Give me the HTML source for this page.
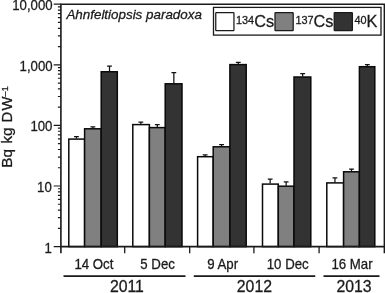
<!DOCTYPE html>
<html lang="en"><head><meta charset="utf-8"><title>Ahnfeltiopsis paradoxa</title>
<style>html,body{margin:0;padding:0;background:#fff;width:385px;height:293px;overflow:hidden}</style>
</head><body>
<svg width="385" height="293" viewBox="0 0 385 293" style="display:block;position:absolute;left:0;top:0;will-change:transform" font-family="'Liberation Sans', Arial, sans-serif" fill="#1a1a1a"><style>text{stroke:#1a1a1a;stroke-width:0.28px;paint-order:stroke}</style>
<rect x="0" y="0" width="385" height="293" fill="#fff"/>
<path d="M76.45 138.60V136.70M74.05 136.70H78.85" stroke="#111" stroke-width="1.25" fill="none"/>
<path d="M92.90 128.30V126.80M90.50 126.80H95.30" stroke="#111" stroke-width="1.25" fill="none"/>
<path d="M109.50 71.25V66.00M107.10 66.00H111.90" stroke="#111" stroke-width="1.25" fill="none"/>
<rect x="68.80" y="139.10" width="15.80" height="107.50" fill="#ffffff" stroke="#0a0a0a" stroke-width="1.5"/>
<rect x="84.60" y="128.80" width="16.60" height="117.80" fill="#808080" stroke="#0a0a0a" stroke-width="1.5"/>
<rect x="101.20" y="71.75" width="16.10" height="174.85" fill="#333333" stroke="#0a0a0a" stroke-width="1.5"/>
<path d="M140.85 124.10V122.10M138.45 122.10H143.25" stroke="#111" stroke-width="1.25" fill="none"/>
<path d="M157.30 127.10V124.60M154.90 124.60H159.70" stroke="#111" stroke-width="1.25" fill="none"/>
<path d="M173.85 83.30V72.60M171.45 72.60H176.25" stroke="#111" stroke-width="1.25" fill="none"/>
<rect x="132.80" y="124.60" width="16.60" height="122.00" fill="#ffffff" stroke="#0a0a0a" stroke-width="1.5"/>
<rect x="149.40" y="127.60" width="15.80" height="119.00" fill="#808080" stroke="#0a0a0a" stroke-width="1.5"/>
<rect x="165.20" y="83.80" width="16.80" height="162.80" fill="#333333" stroke="#0a0a0a" stroke-width="1.5"/>
<path d="M205.15 156.20V154.90M202.75 154.90H207.55" stroke="#111" stroke-width="1.25" fill="none"/>
<path d="M221.55 146.30V144.60M219.15 144.60H223.95" stroke="#111" stroke-width="1.25" fill="none"/>
<path d="M238.30 64.10V62.40M235.90 62.40H240.70" stroke="#111" stroke-width="1.25" fill="none"/>
<rect x="197.60" y="156.70" width="15.60" height="89.90" fill="#ffffff" stroke="#0a0a0a" stroke-width="1.5"/>
<rect x="213.20" y="146.80" width="16.70" height="99.80" fill="#808080" stroke="#0a0a0a" stroke-width="1.5"/>
<rect x="229.90" y="64.60" width="16.30" height="182.00" fill="#333333" stroke="#0a0a0a" stroke-width="1.5"/>
<path d="M270.15 183.60V179.10M267.75 179.10H272.55" stroke="#111" stroke-width="1.25" fill="none"/>
<path d="M286.15 185.70V181.80M283.75 181.80H288.55" stroke="#111" stroke-width="1.25" fill="none"/>
<path d="M302.65 76.50V73.70M300.25 73.70H305.05" stroke="#111" stroke-width="1.25" fill="none"/>
<rect x="262.50" y="184.10" width="15.80" height="62.50" fill="#ffffff" stroke="#0a0a0a" stroke-width="1.5"/>
<rect x="278.30" y="186.20" width="15.70" height="60.40" fill="#808080" stroke="#0a0a0a" stroke-width="1.5"/>
<rect x="294.00" y="77.00" width="16.80" height="169.60" fill="#333333" stroke="#0a0a0a" stroke-width="1.5"/>
<path d="M334.95 182.40V177.90M332.55 177.90H337.35" stroke="#111" stroke-width="1.25" fill="none"/>
<path d="M351.50 171.30V169.10M349.10 169.10H353.90" stroke="#111" stroke-width="1.25" fill="none"/>
<path d="M367.35 66.20V64.60M364.95 64.60H369.75" stroke="#111" stroke-width="1.25" fill="none"/>
<rect x="326.80" y="182.90" width="16.80" height="63.70" fill="#ffffff" stroke="#0a0a0a" stroke-width="1.5"/>
<rect x="343.60" y="171.80" width="15.80" height="74.80" fill="#808080" stroke="#0a0a0a" stroke-width="1.5"/>
<rect x="359.40" y="66.70" width="15.40" height="179.90" fill="#333333" stroke="#0a0a0a" stroke-width="1.5"/>
<path d="M60.9 253.29999999999998V4.2H384.4V253.29999999999998" fill="none" stroke="#1a1a1a" stroke-width="1.6" stroke-linejoin="miter"/>
<path d="M60.9 246.6H384.4" fill="none" stroke="#1a1a1a" stroke-width="1.6"/>
<path d="M53.70 246.60H60.9 M57.90 228.36H60.9 M57.90 217.69H60.9 M57.90 210.12H60.9 M57.90 204.24H60.9 M57.90 199.44H60.9 M57.90 195.39H60.9 M57.90 191.87H60.9 M57.90 188.77H60.9 M53.70 186.00H60.9 M57.90 167.76H60.9 M57.90 157.09H60.9 M57.90 149.52H60.9 M57.90 143.64H60.9 M57.90 138.84H60.9 M57.90 134.79H60.9 M57.90 131.27H60.9 M57.90 128.17H60.9 M53.70 125.40H60.9 M57.90 107.16H60.9 M57.90 96.49H60.9 M57.90 88.92H60.9 M57.90 83.04H60.9 M57.90 78.24H60.9 M57.90 74.19H60.9 M57.90 70.67H60.9 M57.90 67.57H60.9 M53.70 64.80H60.9 M57.90 46.56H60.9 M57.90 35.89H60.9 M57.90 28.32H60.9 M57.90 22.44H60.9 M57.90 17.64H60.9 M57.90 13.59H60.9 M57.90 10.07H60.9 M57.90 6.97H60.9 M53.70 4.20H60.9" stroke="#1a1a1a" stroke-width="1.2" fill="none"/>
<path d="M124.70 246.6V253.29999999999998 M189.70 246.6V253.29999999999998 M253.90 246.6V253.29999999999998 M319.10 246.6V253.29999999999998" stroke="#1a1a1a" stroke-width="1.3" fill="none"/>
<text transform="translate(51.9 252.70) scale(0.905 1)" font-size="14.6" text-anchor="end">1</text>
<text transform="translate(51.8 192.10) scale(0.905 1)" font-size="14.6" text-anchor="end">10</text>
<text transform="translate(52.4 131.00) scale(0.905 1)" font-size="14.6" text-anchor="end">100</text>
<text transform="translate(52.6 70.90) scale(0.905 1)" font-size="14.6" text-anchor="end">1,000</text>
<text transform="translate(52.6 10.30) scale(0.905 1)" font-size="14.6" text-anchor="end">10,000</text>
<text transform="translate(12.2 167.7) rotate(-90)" font-size="15.3">Bq <tspan x="24.1">kg</tspan> <tspan x="45.2 57.1" font-size="14.8">DW</tspan><tspan x="71.2" dy="-4.3" font-size="8.9" letter-spacing="0.3">–1</tspan></text>
<text x="66.4" y="19.3" font-size="13.4" font-style="italic">Ahnfeltiopsis paradoxa</text>
<text transform="translate(93.9 268.6) scale(0.94 1)" font-size="14.1" text-anchor="middle">14 Oct</text>
<text transform="translate(157.6 268.6) scale(0.94 1)" font-size="14.1" text-anchor="middle">5 Dec</text>
<text transform="translate(222.6 268.6) scale(0.94 1)" font-size="14.1" text-anchor="middle">9 Apr</text>
<text transform="translate(287.7 268.6) scale(0.94 1)" font-size="14.1" text-anchor="middle">10 Dec</text>
<text transform="translate(352.0 268.6) scale(0.94 1)" font-size="14.1" text-anchor="middle">16 Mar</text>
<path d="M63.5 276.1H185.5" stroke="#1a1a1a" stroke-width="1.6" fill="none"/>
<path d="M193.75 276.1H315.25" stroke="#1a1a1a" stroke-width="1.6" fill="none"/>
<path d="M323.5 276.1H379.5" stroke="#1a1a1a" stroke-width="1.6" fill="none"/>
<text x="126.9" y="291.9" font-size="15.8" text-anchor="middle">2011</text>
<text x="254.4" y="291.9" font-size="15.8" text-anchor="middle">2012</text>
<text x="354" y="291.9" font-size="15.8" text-anchor="middle">2013</text>
<rect x="213.5" y="7.4" width="167.5" height="27.7" fill="#fff" stroke="#1a1a1a" stroke-width="1.3"/>
<rect x="215.75" y="12.7" width="18.2" height="18" rx="0.6" fill="#ffffff" stroke="#1a1a1a" stroke-width="1.25"/>
<rect x="275.0" y="12.7" width="18.2" height="18" rx="0.6" fill="#808080" stroke="#1a1a1a" stroke-width="1.25"/>
<rect x="334.2" y="12.7" width="18.2" height="18" rx="0.6" fill="#333333" stroke="#1a1a1a" stroke-width="1.25"/>
<text x="236.0" y="27.2" font-size="16.3"><tspan font-size="10.9" dy="-3.5">134</tspan><tspan dy="3.5">Cs</tspan></text>
<text x="295.4" y="27.2" font-size="16.3"><tspan font-size="10.9" dy="-3.5">137</tspan><tspan dy="3.5">Cs</tspan></text>
<text x="354.4" y="27.2" font-size="16.3"><tspan font-size="10.9" dy="-3.5">40</tspan><tspan dy="3.5">K</tspan></text>
</svg>
</body></html>
